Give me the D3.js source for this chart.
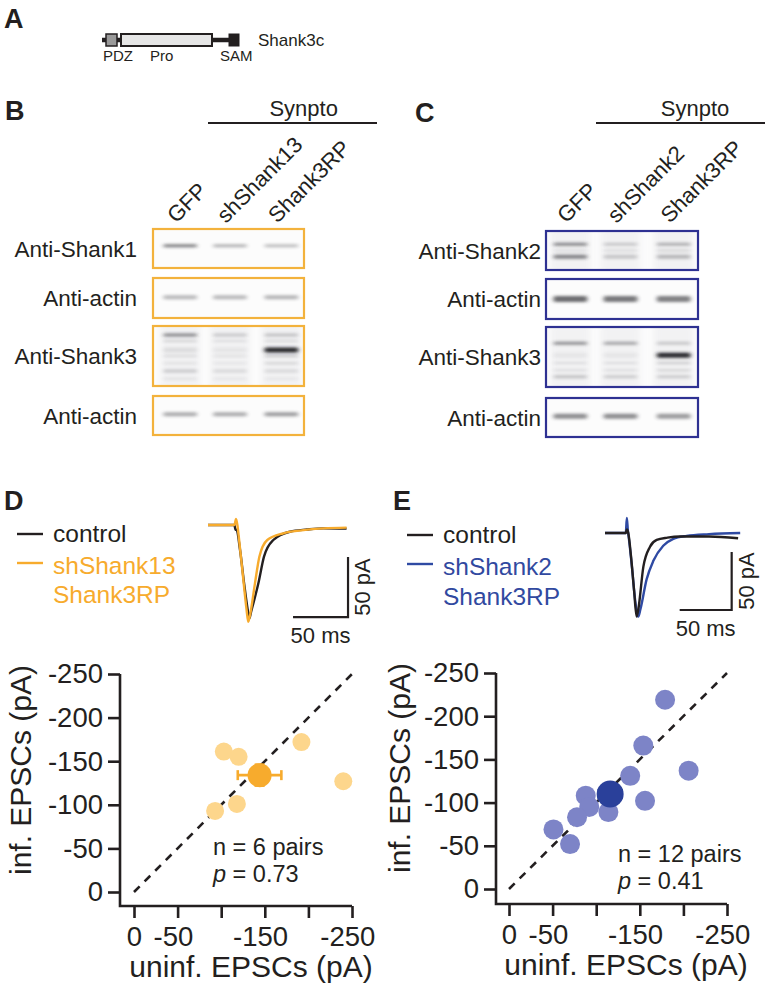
<!DOCTYPE html>
<html><head><meta charset="utf-8">
<script src="https://cdn.jsdelivr.net/npm/d3@7/dist/d3.min.js"></script>
<style>
body{margin:0;background:#fff}
text{font-family:"Liberation Sans",Arial,Helvetica,sans-serif;fill:#231f20}
</style>
</head><body>
<svg id="fig" width="766" height="989" xmlns="http://www.w3.org/2000/svg"></svg>
<script>
// ---------------- DATA ----------------
const domainLabels = ["PDZ", "Pro", "SAM"];
const constructName = "Shank3c";
const lanesB = ["GFP", "shShank13", "Shank3RP"];
const lanesC = ["GFP", "shShank2", "Shank3RP"];
const groupLabel = "Synpto";
const blotLabelsB = ["Anti-Shank1", "Anti-actin", "Anti-Shank3", "Anti-actin"];
const blotLabelsC = ["Anti-Shank2", "Anti-actin", "Anti-Shank3", "Anti-actin"];
// bands: [relative height in strip, band thickness, intensity GFP, knockdown, rescue]
const bandsB = [
  [[0.43, 3, 0.60, 0.35, 0.30]],
  [[0.48, 4, 0.32, 0.32, 0.34]],
  [[0.15, 3, 0.55, 0.22, 0.25], [0.25, 2, 0.18, 0.12, 0.15], [0.40, 5, 0.10, 0.06, 1.00],
   [0.50, 2, 0.14, 0.10, 0.25], [0.62, 2, 0.10, 0.08, 0.18], [0.75, 3, 0.22, 0.14, 0.14], [0.88, 2, 0.10, 0.08, 0.08]],
  [[0.47, 4, 0.38, 0.38, 0.45]]
];
const bandsC = [
  [[0.34, 3, 0.55, 0.22, 0.35], [0.50, 2, 0.12, 0.15, 0.18], [0.66, 4, 0.55, 0.22, 0.30]],
  [[0.50, 6, 0.68, 0.62, 0.58]],
  [[0.27, 3, 0.50, 0.40, 0.22], [0.47, 5, 0.06, 0.06, 1.00], [0.60, 2, 0.12, 0.12, 0.22],
   [0.72, 2, 0.12, 0.12, 0.18], [0.83, 3, 0.25, 0.20, 0.20]],
  [[0.47, 5, 0.52, 0.52, 0.45]]
];

// example EPSC traces (time ms, current pA)
const tD_ctrl = [0, 12, 24, 25, 26, 29, 33, 36, 37.6, 39, 45.8, 50.9, 59.4, 74.5, 90, 104.8, 126];
const iD_ctrl = [0, 0, 0, -4, -4, -20, -50, -70, -77.8, -73, -48.6, -26.4, -12.5, -5.6, -3.8, -2.8, -3];
const tD_res = [0, 12, 24, 25.5, 26.7, 28, 31.5, 35, 36.6, 38, 42.7, 46.7, 53.9, 68.5, 85, 104.8, 126];
const iD_res = [0, 0, 0, 5, 0, -10, -40, -70, -80.6, -76, -48.6, -26.4, -12.5, -6.9, -4.5, -2.8, -2.2];
const tE_ctrl = [0, 10, 20, 21, 22.4, 25, 28, 30.4, 32, 36.9, 43.3, 49.7, 60, 72, 100, 128];
const iE_ctrl = [0, 0, 0, 3, 0, -20, -50, -72, -66, -29, -11.8, -6, -4, -3, -3, -4.5];
const tE_res = [0, 10, 20, 21, 22, 23, 26, 29, 32, 34, 40, 46.5, 56, 65.7, 78.5, 100, 130];
const iE_res = [0, 0, 0, 13, 2, -5, -30, -58, -72, -66, -40, -24, -11, -5, -2.5, -1, 0];
const scaleBarMs = 50, scaleBarPA = 50;

const legendD = ["control", "shShank13", "Shank3RP"];
const legendE = ["control", "shShank2", "Shank3RP"];

// paired EPSC amplitudes (pA)
const dUninf = [-103, -120, -192, -240, -118, -93];
const dInf   = [-161, -155, -172, -127, -101, -93];
const dMean = [-144, -134], dSem = [25, 12];
const eUninf = [-179, -154, -206, -139, -88, -92, -114, -156, -78, -51, -70, -118];
const eInf   = [-219, -166, -137, -131, -108, -95, -89, -102, -83, -69, -52, -110];
const eMean = [-116, -110], eSem = [13, 12];
const axisTicks = [0, -50, -100, -150, -200, -250];
const xTickLabels = ["0", "-50", "", "-150", "", "-250"];
const yTickLabels = ["0", "-50", "-100", "-150", "-200", "-250"];
const statsD = ["n = 6  pairs", "0.73"];
const statsE = ["n = 12 pairs", "0.41"];

// ---------------- DRAW ----------------
const svg = d3.select("#fig");
const ink = "#231f20";
const orange = "#f7ab2d", orangeLight = "#fdd68c", orangeFrame = "#f3b23c";
const blue = "#2f4aa3", blueMean = "#2a409a", blueLight = "#7d84c7", blueFrame = "#2e3192";

const defs = svg.append("defs");
defs.append("filter").attr("id", "blur").attr("x", "-30%").attr("y", "-150%").attr("width", "160%").attr("height", "400%")
  .append("feGaussianBlur").attr("stdDeviation", "2.2 1.5");
defs.append("filter").attr("id", "blur2").attr("x", "-20%").attr("y", "-20%").attr("width", "140%").attr("height", "140%")
  .append("feGaussianBlur").attr("stdDeviation", "3");

function letter(t, x, y) {
  svg.append("text").attr("x", x).attr("y", y).attr("font-size", 27).attr("font-weight", "bold").text(t);
}
letter("A", 4, 28); letter("B", 5, 120); letter("C", 415, 122); letter("D", 4, 510); letter("E", 393, 510);

// ---- Panel A: domain schematic ----
const gA = svg.append("g");
gA.append("line").attr("x1", 102).attr("x2", 238).attr("y1", 40).attr("y2", 40).attr("stroke", ink).attr("stroke-width", 4.5);
gA.append("rect").attr("x", 106).attr("y", 34).attr("width", 11).attr("height", 12).attr("fill", "#9a9a9a").attr("stroke", ink).attr("stroke-width", 1.5);
gA.append("rect").attr("x", 121).attr("y", 34).attr("width", 91).attr("height", 12).attr("fill", "#e6e6e6").attr("stroke", ink).attr("stroke-width", 2);
gA.append("rect").attr("x", 229).attr("y", 34).attr("width", 10).attr("height", 12).attr("fill", ink).attr("stroke", ink).attr("stroke-width", 1);
const domX = [103, 150, 220];
domainLabels.forEach((d, i) => gA.append("text").attr("x", domX[i]).attr("y", 61).attr("font-size", 15).text(d));
gA.append("text").attr("x", 258).attr("y", 46).attr("font-size", 17).text(constructName);

// ---- Panels B, C: blots ----
function blotPanel(opt) {
  const g = svg.append("g");
  const w = opt.x1 - opt.x0;
  const cx = opt.laneFrac.map(f => opt.x0 + f * w);
  g.append("line").attr("x1", opt.barX[0]).attr("x2", opt.barX[1]).attr("y1", 123).attr("y2", 123).attr("stroke", ink).attr("stroke-width", 2);
  g.append("text").attr("x", (cx[1] + cx[2]) / 2 + 48).attr("y", 116).attr("text-anchor", "middle").attr("font-size", 22).text(groupLabel);
  opt.lanes.forEach((l, i) => {
    g.append("text").attr("transform", `translate(${cx[i] - 4},224) rotate(-45)`).attr("font-size", 22).text(l);
  });
  opt.boxes.forEach((b, i) => {
    const [y0, y1] = b, h = y1 - y0;
    const id = opt.id + i;
    defs.append("clipPath").attr("id", id).append("rect").attr("x", opt.x0).attr("y", y0).attr("width", w).attr("height", h);
    const bg = g.append("g").attr("clip-path", `url(#${id})`);
    bg.append("rect").attr("x", opt.x0).attr("y", y0).attr("width", w).attr("height", h).attr("fill", "#fcfcfc");
    if (opt.bands[i].length > 2) {
      cx.forEach(c => bg.append("rect").attr("x", c - 20).attr("y", y0 - 4).attr("width", 40).attr("height", h + 8)
        .attr("fill", "#c0c0c8").attr("opacity", 0.16).attr("filter", "url(#blur2)"));
    }
    opt.bands[i].forEach(bd => {
      const [fy, th, ...vals] = bd;
      vals.forEach((v, j) => {
        bg.append("rect").attr("x", cx[j] - 17).attr("y", y0 + fy * h - th / 2).attr("width", 34).attr("height", th)
          .attr("rx", 2).attr("fill", "#26262c").attr("opacity", v).attr("filter", "url(#blur)");
      });
    });
    g.append("rect").attr("x", opt.x0).attr("y", y0).attr("width", w).attr("height", h)
      .attr("fill", "none").attr("stroke", opt.color).attr("stroke-width", 2.2);
    g.append("text").attr("x", opt.labelX).attr("y", (y0 + y1) / 2).attr("dy", "0.36em")
      .attr("text-anchor", "end").attr("font-size", 22.5).text(opt.labels[i]);
  });
}
blotPanel({id: "cb", x0: 153, x1: 304, laneFrac: [0.18, 0.51, 0.85], barX: [208, 377], lanes: lanesB,
  boxes: [[229, 268], [278, 318], [326, 386], [396, 435]], bands: bandsB, color: orangeFrame, labelX: 137, labels: blotLabelsB});
blotPanel({id: "cc", x0: 546, x1: 698, laneFrac: [0.16, 0.49, 0.84], barX: [596, 765], lanes: lanesC,
  boxes: [[231, 270], [279, 319], [327, 387], [398, 437]], bands: bandsC, color: blueFrame, labelX: 541, labels: blotLabelsC});

// ---- Traces ----
function traces(opt) {
  const g = svg.append("g");
  const x = d3.scaleLinear().domain([0, 100]).range([opt.x0, opt.x0 + 100 * opt.pxms]);
  const y = d3.scaleLinear().domain([0, -100]).range([opt.y0, opt.y0 + 100 * opt.pxpa]);
  const line = d3.line().x(d => x(d[0])).y(d => y(d[1])).curve(d3.curveMonotoneX);
  const ctrl = d3.zip(opt.tc, opt.ic), res = d3.zip(opt.tr, opt.ir);
  opt.order.forEach(k => {
    const dat = k === "c" ? ctrl : res;
    g.append("path").attr("d", line(dat)).attr("fill", "none").attr("stroke", k === "c" ? ink : opt.color)
      .attr("stroke-width", 2.4).attr("stroke-linejoin", "round");
  });
  const [cT, cI] = opt.corner;
  g.append("path").attr("d", `M${x(cT - scaleBarMs)},${y(cI)}H${x(cT)}V${y(cI + scaleBarPA)}`)
    .attr("fill", "none").attr("stroke", ink).attr("stroke-width", 2.2);
  g.append("text").attr("x", (x(cT - scaleBarMs) + x(cT)) / 2).attr("y", y(cI) + 26).attr("text-anchor", "middle").attr("font-size", 22).text(`${scaleBarMs} ms`);
  g.append("text").attr("transform", `translate(${x(cT) + 22},${(y(cI) + y(cI + scaleBarPA)) / 2}) rotate(-90)`)
    .attr("text-anchor", "middle").attr("font-size", 22).text(`${scaleBarPA} pA`);
  const L = opt.legend;
  const lx = opt.legX;
  g.append("line").attr("x1", lx).attr("x2", lx + 26).attr("y1", opt.legY[0] - 8).attr("y2", opt.legY[0] - 8).attr("stroke", ink).attr("stroke-width", 2.4);
  g.append("line").attr("x1", lx).attr("x2", lx + 26).attr("y1", opt.legY[1] - 11).attr("y2", opt.legY[1] - 11).attr("stroke", opt.color).attr("stroke-width", 2.4);
  L.forEach((t, i) => g.append("text").attr("x", lx + 36).attr("y", opt.legY[i]).attr("font-size", 24.5)
    .style("fill", i === 0 ? ink : opt.textColor).text(t));
}
traces({x0: 208, y0: 525, pxms: 1.1, pxpa: 1.2, tc: tD_ctrl, ic: iD_ctrl, tr: tD_res, ir: iD_res, order: ["c", "r"],
  color: orange, textColor: orange, corner: [127.3, -76.7], legend: legendD, legX: 17, legY: [542, 574, 603]});
traces({x0: 605, y0: 533, pxms: 1.04, pxpa: 1.16, tc: tE_ctrl, ic: iE_ctrl, tr: tE_res, ir: iE_res, order: ["r", "c"],
  color: blue, textColor: "#3149a0", corner: [121.8, -66.4], legend: legendE, legX: 407, legY: [543, 575, 605]});

// ---- Scatter plots ----
function scatter(opt) {
  const g = svg.append("g");
  const x = d3.scaleLinear().domain([0, -250]).range(opt.xr);
  const y = d3.scaleLinear().domain([0, -250]).range(opt.yr);
  const xa = d3.axisBottom(x).tickValues(axisTicks).tickSize(12).tickPadding(8).tickFormat((d, i) => xTickLabels[i]);
  const ya = d3.axisLeft(y).tickValues(axisTicks).tickSize(12).tickPadding(5).tickFormat((d, i) => yTickLabels[i]);
  const gx = g.append("g").attr("transform", `translate(0,${opt.axY})`).call(xa);
  const gy = g.append("g").attr("transform", `translate(${opt.axX},0)`).call(ya);
  [gx, gy].forEach(a => {
    a.select(".domain").remove();
    a.selectAll(".tick line").attr("stroke", ink).attr("stroke-width", 2.6);
    a.selectAll(".tick text").attr("font-size", 27.5).attr("font-family", null).style("fill", ink);
  });
  gx.selectAll(".tick text").attr("dx", d => d < 0 ? "-0.17em" : 0);
  g.append("path").attr("d", `M${opt.axX},${y(-250)}V${opt.axY}H${x(-250)}`).attr("fill", "none")
    .attr("stroke", ink).attr("stroke-width", 2.6);
  g.append("line").attr("x1", x(0)).attr("y1", y(0)).attr("x2", x(-250)).attr("y2", y(-250))
    .attr("stroke", ink).attr("stroke-width", 2.6).attr("stroke-dasharray", "8,7");
  g.selectAll("circle.pt").data(d3.zip(opt.u, opt.v)).join("circle").attr("class", "pt")
    .attr("cx", d => x(d[0])).attr("cy", d => y(d[1])).attr("r", opt.r).attr("fill", opt.light);
  const [mx, my] = opt.mean, [sx, sy] = opt.sem;
  const eb = g.append("g").attr("stroke", opt.dark).attr("stroke-width", 2.6);
  eb.append("line").attr("x1", x(mx + sx)).attr("x2", x(mx - sx)).attr("y1", y(my)).attr("y2", y(my));
  eb.append("line").attr("x1", x(mx + sx)).attr("x2", x(mx + sx)).attr("y1", y(my) - 5).attr("y2", y(my) + 5);
  eb.append("line").attr("x1", x(mx - sx)).attr("x2", x(mx - sx)).attr("y1", y(my) - 5).attr("y2", y(my) + 5);
  eb.append("line").attr("y1", y(my + sy)).attr("y2", y(my - sy)).attr("x1", x(mx)).attr("x2", x(mx));
  eb.append("line").attr("y1", y(my + sy)).attr("y2", y(my + sy)).attr("x1", x(mx) - 5).attr("x2", x(mx) + 5);
  eb.append("line").attr("y1", y(my - sy)).attr("y2", y(my - sy)).attr("x1", x(mx) - 5).attr("x2", x(mx) + 5);
  g.append("circle").attr("cx", x(mx)).attr("cy", y(my)).attr("r", opt.rm).attr("fill", opt.dark);
  g.append("text").attr("x", opt.statX).attr("y", opt.statY).attr("font-size", 23.5).text(opt.stats[0]);
  const t2 = g.append("text").attr("x", opt.statX).attr("y", opt.statY + 27).attr("font-size", 23.5);
  t2.append("tspan").attr("font-style", "italic").text("p");
  t2.append("tspan").text(" = " + opt.stats[1]);
  g.append("text").attr("x", (x(0) + x(-250)) / 2 + 8).attr("y", opt.axY + 71).attr("text-anchor", "middle").attr("font-size", 30).text("uninf. EPSCs (pA)");
  g.append("text").attr("transform", `translate(${opt.ytX},${(y(0) + y(-250)) / 2 - 13}) rotate(-90)`).attr("text-anchor", "middle").attr("font-size", 30).text("inf. EPSCs (pA)");
}
scatter({xr: [134, 352], yr: [892, 674], axX: 120, axY: 906, u: dUninf, v: dInf, mean: dMean, sem: dSem,
  r: 9, rm: 12, light: orangeLight, dark: orange, stats: statsD, statX: 213, statY: 855, ytX: 31});
scatter({xr: [509, 727], yr: [889, 673], axX: 496, axY: 904, u: eUninf, v: eInf, mean: eMean, sem: eSem,
  r: 10, rm: 13.5, light: blueLight, dark: blueMean, stats: statsE, statX: 618, statY: 862, ytX: 410});
</script>
</body></html>
